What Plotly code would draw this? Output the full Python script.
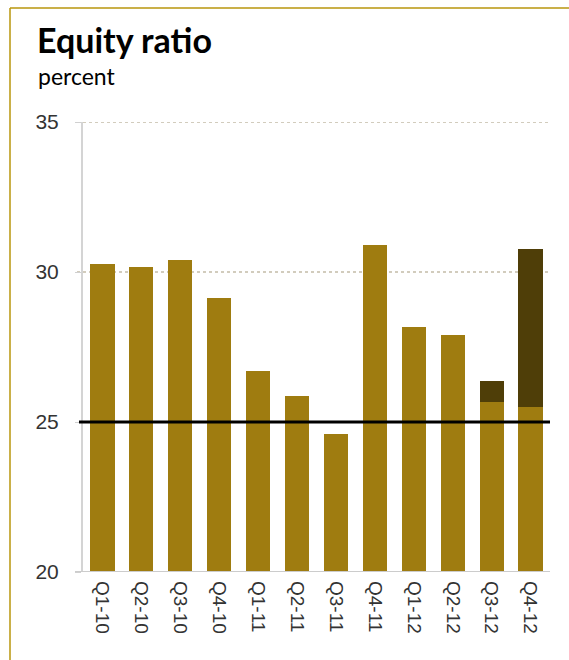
import plotly.graph_objects as go

# Quarterly equity ratio, percent
quarters = ["Q1-10", "Q2-10", "Q3-10", "Q4-10", "Q1-11", "Q2-11",
            "Q3-11", "Q4-11", "Q1-12", "Q2-12", "Q3-12", "Q4-12"]
equity_ratio = [30.27, 30.18, 30.4, 29.13, 26.7, 25.87,
                24.6, 30.9, 28.17, 27.9, 25.67, 25.5]
# additional layer stacked on the last two quarters
addition = [None, None, None, None, None, None,
            None, None, None, None, 0.7, 5.28]
y_ticks = [20, 25, 30, 35]
grid_levels = [30, 35]
target_level = 25

W, H = 569, 660
ML, MR, MT, MB = 83, 19, 122, 88
PW, PH = W - ML - MR, H - MT - MB


def px_x(x):
    return (x - ML) / PW


def px_y(y):
    return (H - MB - y) / PH


GOLD = "#9f7c10"
DARK = "#4f3e08"
FRAME = "#b8960c"

fig = go.Figure()
fig.add_trace(go.Bar(x=quarters, y=equity_ratio, marker=dict(color=GOLD, line=dict(width=0)),
                     showlegend=False, hoverinfo="x+y"))
fig.add_trace(go.Bar(x=quarters, y=addition, marker=dict(color=DARK, line=dict(width=0)),
                     showlegend=False, hoverinfo="x+y"))

# dotted grid lines
for level in grid_levels:
    fig.add_shape(type="line", xref="paper", yref="y", x0=px_x(77), x1=px_x(551),
                  y0=level, y1=level, layer="below",
                  line=dict(color="#c4bca8", width=1.5, dash="dot"))

# reference level line
fig.add_shape(type="line", xref="paper", yref="y", x0=px_x(79), x1=px_x(550),
              y0=target_level, y1=target_level, line=dict(color="#000000", width=3))

# baseline extending slightly left of the value axis
fig.add_shape(type="line", xref="paper", yref="y", x0=px_x(75), x1=1,
              y0=20, y1=20, line=dict(color="#cccccc", width=2))

# frame on the top and left edges
fig.add_shape(type="line", xref="paper", yref="paper", x0=px_x(10), x1=px_x(569),
              y0=px_y(8), y1=px_y(8), line=dict(color=FRAME, width=1.5))
fig.add_shape(type="line", xref="paper", yref="paper", x0=px_x(10), x1=px_x(10),
              y0=px_y(8), y1=px_y(660), line=dict(color=FRAME, width=1.5))

fig.add_annotation(text="<b>Equity ratio</b>", xref="paper", yref="paper",
                   x=px_x(35), y=px_y(62), xanchor="left", yanchor="bottom",
                   showarrow=False, font=dict(family="Lato", size=34, color="#000000"))
fig.add_annotation(text="percent", xref="paper", yref="paper",
                   x=px_x(36), y=px_y(92), xanchor="left", yanchor="bottom",
                   showarrow=False, font=dict(family="Lato", size=23, color="#000000"))

fig.update_layout(
    width=W, height=H,
    margin=dict(l=ML, r=MR, t=MT, b=MB, pad=0),
    paper_bgcolor="white", plot_bgcolor="white",
    barmode="stack", bargap=0.38,
    font=dict(family="Liberation Sans, Arial", color="#333333"),
)
fig.update_xaxes(
    tickangle=90, tickfont=dict(size=19, color="#333333"),
    showline=False, ticks="", showgrid=False, ticklabelstandoff=8,
)
fig.update_yaxes(
    range=[20, 35], tickvals=y_ticks, tickfont=dict(size=21, color="#333333"),
    showline=True, linecolor="#d4d4d4", linewidth=2,
    ticks="outside", ticklen=6, tickcolor="#d0d0d0", ticklabelstandoff=12,
    showgrid=False, zeroline=False,
)

fig.write_html("out.html")
